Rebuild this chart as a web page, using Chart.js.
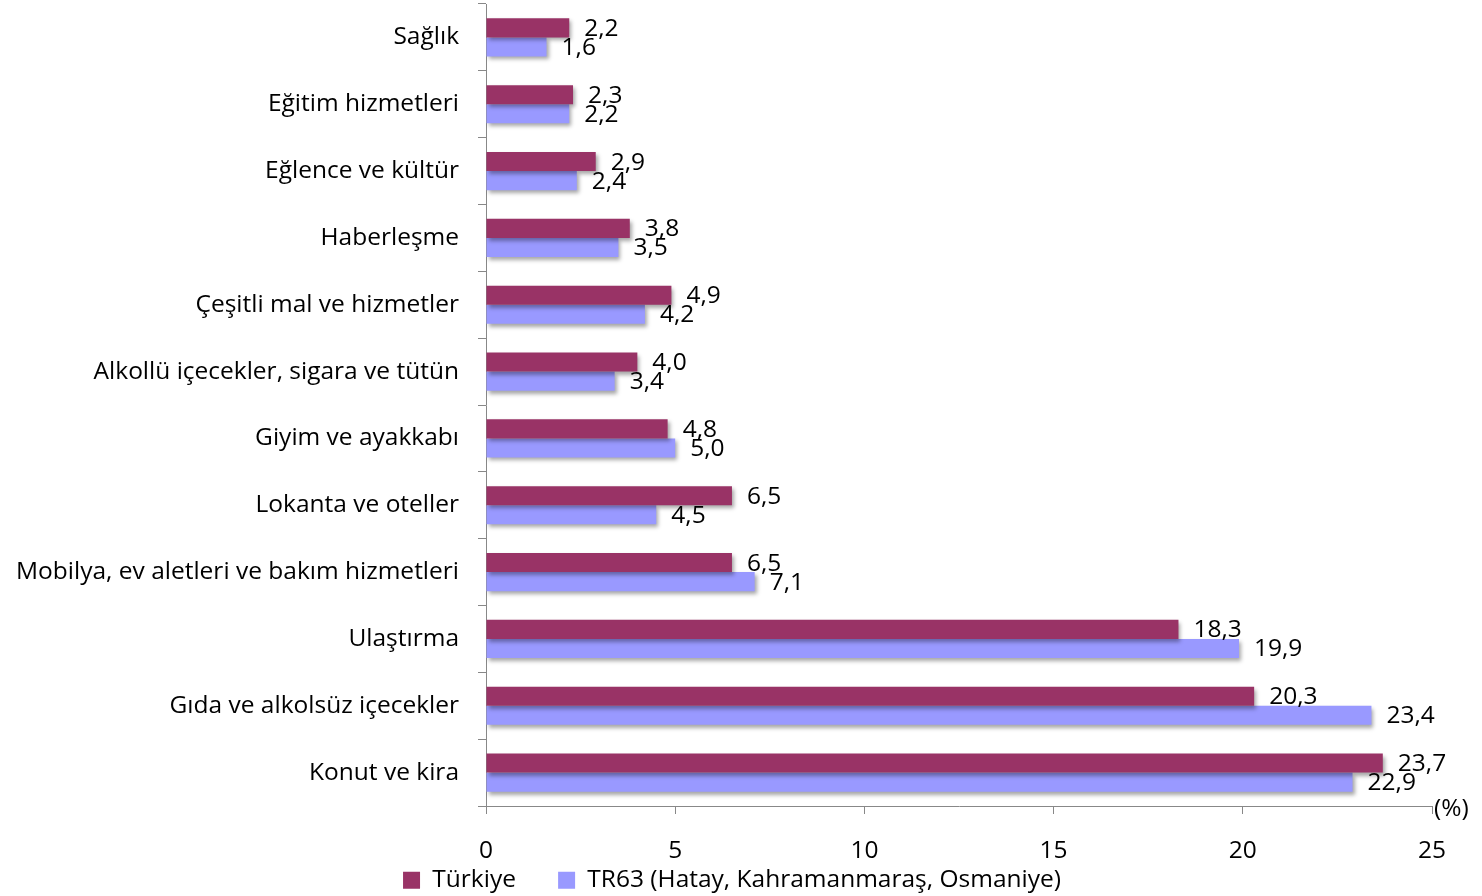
<!DOCTYPE html>
<html>
<head>
<meta charset="utf-8">
<script src="https://cdn.jsdelivr.net/npm/chart.js@4/dist/chart.umd.min.js"></script>
<style>
html,body{margin:0;padding:0;background:#fff;overflow:hidden;}
#wrap{position:relative;width:1482px;height:896px;}
</style>
</head>
<body>
<div id="wrap"><canvas id="c" width="1482" height="896"></canvas></div>
<script>
const categories = [
  "Sağlık",
  "Eğitim hizmetleri",
  "Eğlence ve kültür",
  "Haberleşme",
  "Çeşitli mal ve hizmetler",
  "Alkollü içecekler, sigara ve tütün",
  "Giyim ve ayakkabı",
  "Lokanta ve oteller",
  "Mobilya, ev aletleri ve bakım hizmetleri",
  "Ulaştırma",
  "Gıda ve alkolsüz içecekler",
  "Konut ve kira"
];
const turkiye = [2.2, 2.3, 2.9, 3.8, 4.9, 4.0, 4.8, 6.5, 6.5, 18.3, 20.3, 23.7];
const tr63 = [1.6, 2.2, 2.4, 3.5, 4.2, 3.4, 5.0, 4.5, 7.1, 19.9, 23.4, 22.9];
const seriesNames = ["Türkiye", "TR63 (Hatay, Kahramanmaraş, Osmaniye)"];
const xTicks = [0, 5, 10, 15, 20, 25];
const unitLabel = "(%)";

const FONT = "'Open Sans', 'Noto Sans', sans-serif";
const FS = 24.5;

const shadowPlugin = {
  id: 'barShadow',
  beforeDatasetDraw(chart) {
    const ctx = chart.ctx;
    ctx.save();
    ctx.shadowColor = 'rgba(0,0,0,0.35)';
    ctx.shadowBlur = 4;
    ctx.shadowOffsetX = 2;
    ctx.shadowOffsetY = 3;
  },
  afterDatasetDraw(chart) {
    chart.ctx.restore();
  }
};

const legendShift = {
  id: 'legendShift',
  afterLayout(chart) {
    if (chart.legend) {
      chart.legend.left += 16;
      chart.legend.right += 16;
    }
  }
};

const labelPlugin = {
  id: 'valueLabels',
  afterDatasetsDraw(chart) {
    const ctx = chart.ctx;
    ctx.save();
    ctx.font = FS + "px " + FONT;
    ctx.fillStyle = '#000';
    ctx.textBaseline = 'middle';
    ctx.textAlign = 'left';
    chart.data.datasets.forEach((ds, di) => {
      const meta = chart.getDatasetMeta(di);
      meta.data.forEach((bar, i) => {
        const v = ds.data[i];
        ctx.fillText(v.toFixed(1).replace('.', ','), bar.x + 15, bar.y + 1);
      });
    });
    const xs = chart.scales.x;
    ctx.fillText(unitLabel, xs.right + 2, xs.top + 3);
    ctx.restore();
  }
};

new Chart(document.getElementById('c'), {
  type: 'bar',
  data: {
    labels: categories,
    datasets: [
      { label: seriesNames[0], data: turkiye, backgroundColor: '#993366', borderWidth: 0,
        categoryPercentage: 0.57, barPercentage: 1.0 },
      { label: seriesNames[1], data: tr63, backgroundColor: '#9999FF', borderWidth: 0,
        categoryPercentage: 0.57, barPercentage: 1.0 }
    ]
  },
  options: {
    indexAxis: 'y',
    responsive: false,
    animation: false,
    layout: { padding: { top: 4, right: 50, left: 0, bottom: 0 } },
    plugins: {
      legend: {
        position: 'bottom',
        maxHeight: 32,
        labels: {
          font: { size: FS, family: FONT },
          color: '#000',
          boxWidth: 17,
          boxHeight: 17,
          padding: 4,
          generateLabels(chart) {
            return chart.data.datasets.map((ds, i) => ({
              text: i === 0 ? ds.label + '      ' : ds.label,
              fillStyle: ds.backgroundColor,
              strokeStyle: ds.backgroundColor,
              lineWidth: 0,
              datasetIndex: i,
              hidden: false
            }));
          }
        }
      },
      tooltip: { enabled: false }
    },
    scales: {
      x: {
        min: 0, max: 25,
        afterBuildTicks(scale) { scale.ticks = xTicks.map(v => ({ value: v })); },
        afterFit(scale) { scale.height = 58; scale.paddingLeft = 0; scale.paddingRight = 0; },
        ticks: { font: { size: FS, family: FONT, lineHeight: 1.0 }, color: '#000', padding: 25, maxRotation: 0 },
        grid: { drawOnChartArea: false, drawTicks: true, tickLength: 8, color: '#888' },
        border: { display: true, color: '#888', width: 1 }
      },
      y: {
        offset: true,
        afterFit(scale) { scale.width = 486; scale.paddingTop = 0; scale.paddingBottom = 0; },
        ticks: { font: { size: FS, family: FONT }, color: '#000', padding: 19, autoSkip: false },
        grid: { offset: true, drawOnChartArea: false, drawTicks: true, tickLength: 8, color: '#888' },
        border: { display: true, color: '#888', width: 1 }
      }
    }
  },
  plugins: [shadowPlugin, legendShift, labelPlugin]
});
</script>
</body>
</html>
